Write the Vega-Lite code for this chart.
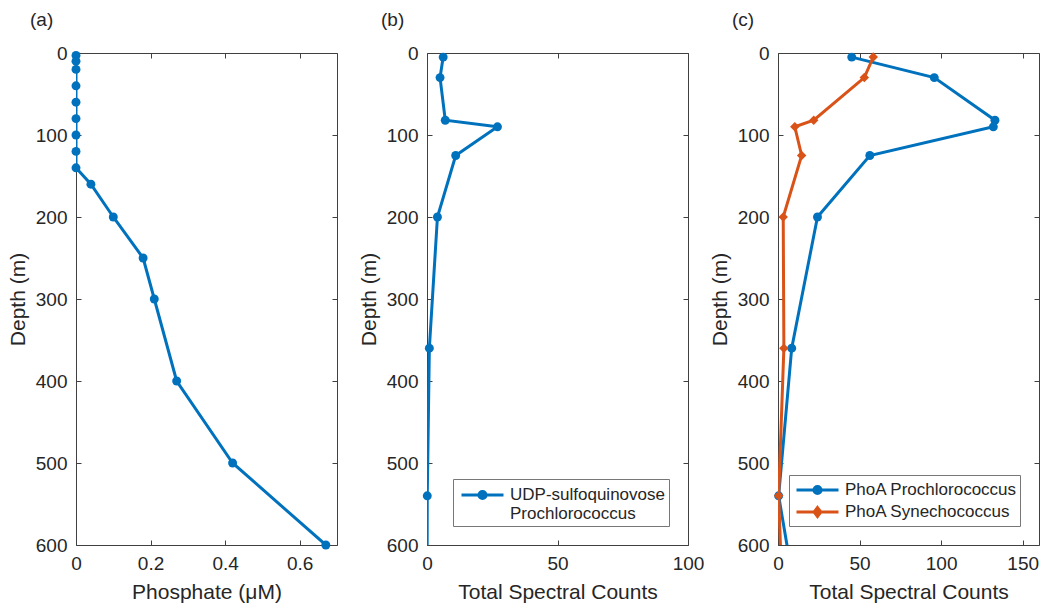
{
  "$schema": "https://vega.github.io/schema/vega-lite/v6.json",
  "background": "white",
  "padding": {"left": 6, "top": 10, "right": 5, "bottom": 5},
  "bounds": "flush",
  "spacing": 90,
  "resolve": {
    "scale": {"fill": "independent", "stroke": "independent", "shape": "independent"},
    "legend": {"fill": "independent", "stroke": "independent", "shape": "independent"}
  },
  "config": {
    "font": "Liberation Sans",
    "view": {"stroke": "#404040", "strokeWidth": 1},
    "axis": {
      "grid": false,
      "domain": false,
      "tickColor": "#404040",
      "tickSize": -5,
      "labelFlush": false,
      "labelOverlap": false,
      "format": "~r",
      "labelFontSize": 19,
      "labelColor": "#262626",
      "labelFont": "Liberation Sans",
      "titleFontSize": 21,
      "titleFontWeight": "normal",
      "titleColor": "#262626",
      "titleFont": "Liberation Sans"
    },
    "axisY": {"labelPadding": 14, "titlePadding": 7},
    "axisX": {"labelPadding": 14, "titlePadding": 8},
    "title": {"fontSize": 19, "fontWeight": "normal", "color": "#262626", "anchor": "start", "frame": "group", "dx": -46, "offset": 14},
    "legend": {
      "orient": "bottom-right",
      "offset": 19,
      "padding": 4,
      "strokeColor": "#777777",
      "fillColor": "white",
      "cornerRadius": 0,
      "labelFontSize": 17,
      "labelColor": "#262626",
      "labelLimit": 400,
      "labelOffset": 26,
      "symbolOffset": 3,
      "symbolSize": 441,
      "symbolStrokeWidth": 3,
      "symbolOpacity": 1,
      "rowPadding": 2,
      "title": null
    }
  },
  "datasets": {
    "phosphate": [
      {"depth": 3, "phosphate": 0},
      {"depth": 10, "phosphate": 0},
      {"depth": 20, "phosphate": 0},
      {"depth": 40, "phosphate": 0},
      {"depth": 60, "phosphate": 0},
      {"depth": 80, "phosphate": 0},
      {"depth": 100, "phosphate": 0},
      {"depth": 120, "phosphate": 0},
      {"depth": 140, "phosphate": 0},
      {"depth": 160, "phosphate": 0.04},
      {"depth": 200, "phosphate": 0.10},
      {"depth": 250, "phosphate": 0.18},
      {"depth": 300, "phosphate": 0.21},
      {"depth": 400, "phosphate": 0.27},
      {"depth": 500, "phosphate": 0.42},
      {"depth": 600, "phosphate": 0.67}
    ],
    "udp": [
      {"series": "UDP-sulfoquinovose Prochlorococcus", "depth": 5, "counts": 6.2},
      {"series": "UDP-sulfoquinovose Prochlorococcus", "depth": 30, "counts": 5},
      {"series": "UDP-sulfoquinovose Prochlorococcus", "depth": 82, "counts": 7},
      {"series": "UDP-sulfoquinovose Prochlorococcus", "depth": 90, "counts": 27},
      {"series": "UDP-sulfoquinovose Prochlorococcus", "depth": 125, "counts": 11},
      {"series": "UDP-sulfoquinovose Prochlorococcus", "depth": 200, "counts": 4},
      {"series": "UDP-sulfoquinovose Prochlorococcus", "depth": 360, "counts": 0.9},
      {"series": "UDP-sulfoquinovose Prochlorococcus", "depth": 540, "counts": 0.1},
      {"series": "UDP-sulfoquinovose Prochlorococcus", "depth": 700, "counts": 0}
    ],
    "phoa": [
      {"series": "PhoA Prochlorococcus", "depth": 5, "counts": 45.2},
      {"series": "PhoA Prochlorococcus", "depth": 30, "counts": 95.8},
      {"series": "PhoA Prochlorococcus", "depth": 82, "counts": 133},
      {"series": "PhoA Prochlorococcus", "depth": 90, "counts": 132},
      {"series": "PhoA Prochlorococcus", "depth": 125, "counts": 56.3},
      {"series": "PhoA Prochlorococcus", "depth": 200, "counts": 24.2},
      {"series": "PhoA Prochlorococcus", "depth": 360, "counts": 8.4},
      {"series": "PhoA Prochlorococcus", "depth": 540, "counts": 0.4},
      {"series": "PhoA Prochlorococcus", "depth": 700, "counts": 14},
      {"series": "PhoA Synechococcus", "depth": 5, "counts": 58.4},
      {"series": "PhoA Synechococcus", "depth": 30, "counts": 52.9},
      {"series": "PhoA Synechococcus", "depth": 82, "counts": 21.9},
      {"series": "PhoA Synechococcus", "depth": 90, "counts": 10.3},
      {"series": "PhoA Synechococcus", "depth": 125, "counts": 14.5},
      {"series": "PhoA Synechococcus", "depth": 200, "counts": 3.2},
      {"series": "PhoA Synechococcus", "depth": 360, "counts": 3.6},
      {"series": "PhoA Synechococcus", "depth": 540, "counts": 0.4},
      {"series": "PhoA Synechococcus", "depth": 700, "counts": 3.3}
    ]
  },
  "hconcat": [
    {
      "width": 261,
      "height": 492,
      "title": {"text": "(a)"},
      "data": {"name": "phosphate"},
      "resolve": {"axis": {"x": "independent", "y": "independent"}},
      "layer": [
        {
          "mark": {"type": "line", "color": "#0072BD", "strokeWidth": 3, "clip": true},
          "encoding": {
            "x": {"field": "phosphate", "type": "quantitative", "scale": {"domain": [0, 0.7]}, "axis": {"title": "Phosphate (μM)", "values": [0, 0.2, 0.4, 0.6], "orient": "bottom"}},
            "y": {"field": "depth", "type": "quantitative", "scale": {"domain": [0, 600], "reverse": true}, "axis": {"title": "Depth (m)", "values": [0, 100, 200, 300, 400, 500, 600], "orient": "left"}},
            "order": {"field": "depth", "type": "quantitative"}
          }
        },
        {
          "mark": {"type": "point", "filled": true, "opacity": 1, "color": "#0072BD", "size": 80, "shape": "circle"},
          "encoding": {
            "x": {"field": "phosphate", "type": "quantitative", "axis": {"orient": "top", "labels": false, "title": null, "values": [0, 0.2, 0.4, 0.6]}},
            "y": {"field": "depth", "type": "quantitative", "axis": {"orient": "right", "labels": false, "title": null, "values": [0, 100, 200, 300, 400, 500, 600]}}
          }
        }
      ]
    },
    {
      "width": 261,
      "height": 492,
      "title": {"text": "(b)"},
      "data": {"name": "udp"},
      "resolve": {"axis": {"x": "independent", "y": "independent"}},
      "layer": [
        {
          "mark": {"type": "line", "color": "#0072BD", "strokeWidth": 3, "clip": true},
          "encoding": {
            "x": {"field": "counts", "type": "quantitative", "scale": {"domain": [0, 100]}, "axis": {"title": "Total Spectral Counts", "values": [0, 50, 100], "orient": "bottom"}},
            "y": {"field": "depth", "type": "quantitative", "scale": {"domain": [0, 600], "reverse": true}, "axis": {"title": "Depth (m)", "values": [0, 100, 200, 300, 400, 500, 600], "orient": "left"}},
            "order": {"field": "depth", "type": "quantitative"}
          }
        },
        {
          "transform": [{"filter": "datum.depth <= 600"}],
          "mark": {"type": "point", "filled": true, "opacity": 1, "color": "#0072BD", "size": 80, "shape": "circle"},
          "encoding": {
            "x": {"field": "counts", "type": "quantitative", "axis": {"orient": "top", "labels": false, "title": null, "values": [0, 50, 100]}},
            "y": {"field": "depth", "type": "quantitative", "axis": {"orient": "right", "labels": false, "title": null, "values": [0, 100, 200, 300, 400, 500, 600]}}
          }
        },
        {
          "mark": {"type": "point", "filled": true, "opacity": 0, "strokeWidth": 3, "clip": true},
          "encoding": {
            "x": {"field": "counts", "type": "quantitative", "axis": null},
            "y": {"field": "depth", "type": "quantitative", "axis": null},
            "fill": {"field": "series", "type": "nominal", "scale": {"range": ["#0072BD"]}, "legend": {"labelExpr": "['UDP-sulfoquinovose', 'Prochlorococcus']", "symbolType": "M-1,0H3M1.34,0A0.34,0.34,0,1,1,0.66,0A0.34,0.34,0,1,1,1.34,0Z"}},
            "stroke": {"field": "series", "type": "nominal", "scale": {"range": ["#0072BD"]}, "legend": {"labelExpr": "['UDP-sulfoquinovose', 'Prochlorococcus']", "symbolType": "M-1,0H3M1.34,0A0.34,0.34,0,1,1,0.66,0A0.34,0.34,0,1,1,1.34,0Z"}}
          }
        }
      ]
    },
    {
      "width": 261,
      "height": 492,
      "title": {"text": "(c)"},
      "data": {"name": "phoa"},
      "resolve": {"axis": {"x": "independent", "y": "independent"}},
      "layer": [
        {
          "transform": [{"filter": "datum.series === 'PhoA Prochlorococcus'"}],
          "mark": {"type": "line", "color": "#0072BD", "strokeWidth": 3, "clip": true},
          "encoding": {
            "x": {"field": "counts", "type": "quantitative", "scale": {"domain": [0, 150]}, "axis": {"title": "Total Spectral Counts", "values": [0, 50, 100, 150], "orient": "bottom"}},
            "y": {"field": "depth", "type": "quantitative", "scale": {"domain": [0, 600], "reverse": true}, "axis": {"title": "Depth (m)", "values": [0, 100, 200, 300, 400, 500, 600], "orient": "left"}},
            "order": {"field": "depth", "type": "quantitative"}
          }
        },
        {
          "transform": [{"filter": "datum.series === 'PhoA Prochlorococcus' && datum.depth <= 600"}],
          "mark": {"type": "point", "filled": true, "opacity": 1, "color": "#0072BD", "size": 80, "shape": "circle"},
          "encoding": {
            "x": {"field": "counts", "type": "quantitative", "axis": {"orient": "top", "labels": false, "title": null, "values": [0, 50, 100, 150]}},
            "y": {"field": "depth", "type": "quantitative", "axis": {"orient": "right", "labels": false, "title": null, "values": [0, 100, 200, 300, 400, 500, 600]}}
          }
        },
        {
          "transform": [{"filter": "datum.series === 'PhoA Synechococcus'"}],
          "mark": {"type": "line", "color": "#D95319", "strokeWidth": 3, "clip": true},
          "encoding": {
            "x": {"field": "counts", "type": "quantitative", "axis": null},
            "y": {"field": "depth", "type": "quantitative", "axis": null},
            "order": {"field": "depth", "type": "quantitative"}
          }
        },
        {
          "transform": [{"filter": "datum.series === 'PhoA Synechococcus' && datum.depth <= 600"}],
          "mark": {"type": "point", "filled": true, "opacity": 1, "color": "#D95319", "size": 90, "shape": "diamond"},
          "encoding": {
            "x": {"field": "counts", "type": "quantitative", "axis": null},
            "y": {"field": "depth", "type": "quantitative", "axis": null}
          }
        },
        {
          "mark": {"type": "point", "filled": true, "opacity": 0, "strokeWidth": 3, "clip": true},
          "encoding": {
            "x": {"field": "counts", "type": "quantitative", "axis": null},
            "y": {"field": "depth", "type": "quantitative", "axis": null},
            "fill": {"field": "series", "type": "nominal", "scale": {"domain": ["PhoA Prochlorococcus", "PhoA Synechococcus"], "range": ["#0072BD", "#D95319"]}, "legend": {"padding": 3, "rowPadding": 0}},
            "stroke": {"field": "series", "type": "nominal", "scale": {"domain": ["PhoA Prochlorococcus", "PhoA Synechococcus"], "range": ["#0072BD", "#D95319"]}, "legend": {"padding": 3, "rowPadding": 0}},
            "shape": {"field": "series", "type": "nominal", "scale": {"domain": ["PhoA Prochlorococcus", "PhoA Synechococcus"], "range": ["M-1,0H3M1.34,0A0.34,0.34,0,1,1,0.66,0A0.34,0.34,0,1,1,1.34,0Z", "M-1,0H3M1,-0.42L1.32,0L1,0.42L0.68,0Z"]}, "legend": {"padding": 3, "rowPadding": 0}}
          }
        }
      ]
    }
  ]
}
